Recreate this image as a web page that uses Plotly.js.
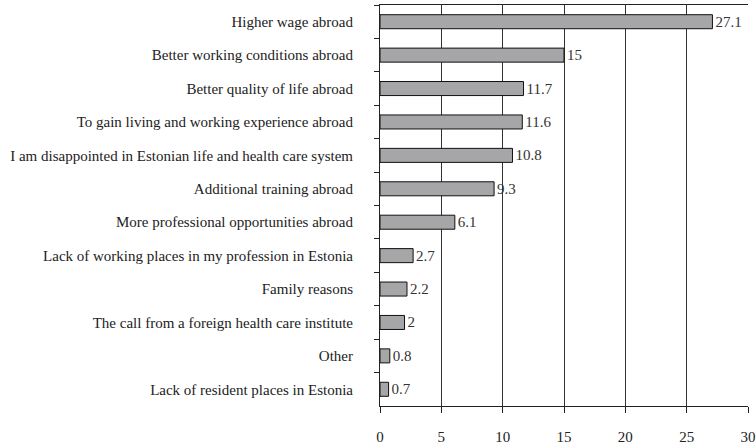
<!DOCTYPE html>
<html><head><meta charset="utf-8">
<script src="https://cdn.plot.ly/plotly-3.0.1.min.js"></script>
<style>html,body{margin:0;padding:0;background:#fff}</style>
</head><body>
<div id="chart" style="width:756px;height:448px"></div>
<script>
const categories = [
  "Higher wage abroad",
  "Better working conditions abroad",
  "Better quality of life abroad",
  "To gain living and working experience abroad",
  "I am disappointed in Estonian life and health care system",
  "Additional training abroad",
  "More professional opportunities abroad",
  "Lack of working places in my profession in Estonia",
  "Family reasons",
  "The call from a foreign health care institute",
  "Other",
  "Lack of resident places in Estonia"
];
const values = [27.1, 15, 11.7, 11.6, 10.8, 9.3, 6.1, 2.7, 2.2, 2, 0.8, 0.7];
const xTicks = [0, 5, 10, 15, 20, 25, 30];

const font = "Liberation Serif, Times New Roman, serif";
Plotly.newPlot("chart", [{
  type: "bar",
  orientation: "h",
  y: categories,
  x: values,
  text: values.map(String),
  textposition: "outside",
  constraintext: "none",
  cliponaxis: false,
  textfont: {family: font, size: 15, color: "#333"},
  marker: {color: "#a6a6a8", line: {color: "#111", width: 1}},
  width: 0.42
}], {
  width: 756, height: 448,
  margin: {l: 380, r: 8, t: 5, b: 42},
  paper_bgcolor: "#fff", plot_bgcolor: "#fff",
  showlegend: false,
  font: {family: font, size: 15, color: "#222"},
  xaxis: {
    range: [0, 30], tickvals: xTicks, ticktext: xTicks.map(String),
    showgrid: true, gridcolor: "#333", gridwidth: 1,
    showline: true, linecolor: "#222", linewidth: 1, mirror: true,
    ticks: "outside", ticklen: 6, tickcolor: "#222",
    ticklabelstandoff: 11, zeroline: false,
    tickfont: {family: font, size: 15, color: "#222"}
  },
  yaxis: {
    autorange: "reversed", type: "category",
    showline: true, linecolor: "#222", linewidth: 1,
    ticks: "outside", ticklen: 5, tickcolor: "#222", tickson: "boundaries",
    showgrid: false, ticklabelstandoff: 23,
    tickfont: {family: font, size: 15, color: "#222"}
  },
  bargap: 0.58
}, {displayModeBar: false, staticPlot: true});
</script>
</body></html>
